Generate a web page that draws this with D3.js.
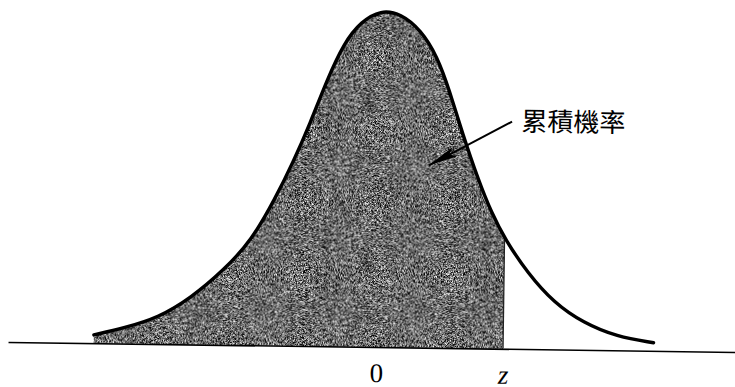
<!DOCTYPE html>
<html>
<head>
<meta charset="utf-8">
<script src="https://cdn.jsdelivr.net/npm/d3@7"></script>
<style>
  body { margin: 0; background: #fff; }
</style>
</head>
<body>
<svg id="chart" width="735" height="387"></svg>
<script>
// curve (x in standard units, height as density)
var curveX = [-3.36, -3.00, -2.60, -2.21, -1.82, -1.50, -1.23, -1.02, -0.82, -0.63, -0.43, -0.23, 0,
              0.24, 0.48, 0.68, 0.83, 0.99, 1.19, 1.35, 1.52, 1.79, 2.11, 2.46, 2.86, 3.30];
var curveY = [0.0097, 0.0185, 0.0309, 0.055, 0.089, 0.124, 0.173, 0.217, 0.264, 0.315, 0.360, 0.385, 0.399,
              0.395, 0.376, 0.345, 0.305, 0.255, 0.199, 0.161, 0.129, 0.090, 0.055, 0.032, 0.016, 0.0095];
var zValue = 1.51;
var tickValues = [0, zValue];
var tickLabels = ['0', 'z'];
var labelText = '累積機率';
var labelAt = [1.69, 0.272];
var arrowFrom = [1.58, 0.269];
var arrowTo = [0.60, 0.216];

var svg = d3.select('#chart');
var width = 735, height = 387;

var x = d3.scaleLinear().domain([-4.38, 4.27]).range([8, 735]);
var y = d3.scaleLinear().domain([0, 0.399]).range([347, 10]);

var pts = curveX.map(function(d, i) { return [d, curveY[i]]; });

var defs = svg.append('defs');

// grainy grey like the printed halftone
var grain = defs.append('filter').attr('id', 'grain')
  .attr('x', 0).attr('y', 0).attr('width', 1).attr('height', 1)
  .attr('color-interpolation-filters', 'sRGB');
grain.append('feTurbulence').attr('type', 'fractalNoise')
  .attr('baseFrequency', 1.6).attr('numOctaves', 1).attr('seed', 4).attr('result', 'n');
grain.append('feColorMatrix').attr('in', 'n').attr('type', 'matrix')
  .attr('values', '2.4 0 0 0 -0.78  2.4 0 0 0 -0.78  2.4 0 0 0 -0.78  0 0 0 0 1')
  .attr('result', 'g');
grain.append('feComposite').attr('in', 'g').attr('in2', 'SourceGraphic').attr('operator', 'in');

defs.append('clipPath').attr('id', 'leftOfZ')
  .append('rect')
  .attr('x', 0).attr('y', 0)
  .attr('width', x(zValue)).attr('height', height);

var area = d3.area()
  .x(function(d) { return x(d[0]); })
  .y0(y(0))
  .y1(function(d) { return y(d[1]); })
  .curve(d3.curveBasis);

var line = d3.line()
  .x(function(d) { return x(d[0]); })
  .y(function(d) { return y(d[1]); })
  .curve(d3.curveBasis);

defs.append('clipPath').attr('id', 'underCurve')
  .append('path').attr('d', area(pts));

defs.append('marker').attr('id', 'head')
  .attr('markerUnits', 'userSpaceOnUse')
  .attr('viewBox', '0 0 30 10')
  .attr('markerWidth', 30).attr('markerHeight', 10)
  .attr('refX', 29).attr('refY', 5)
  .attr('orient', 'auto')
  .append('path').attr('d', 'M0,0L30,5L0,10L6,5Z').style('fill', '#000');

// scanned page is tilted a little
var g = svg.append('g').attr('transform', 'rotate(0.79,' + x(0) + ',' + y(0) + ')');

g.append('path')
  .attr('d', area(pts))
  .attr('clip-path', 'url(#leftOfZ)')
  .attr('filter', 'url(#grain)')
  .style('fill', '#000');

g.append('line')
  .attr('x1', x(zValue)).attr('x2', x(zValue))
  .attr('y1', y(0)).attr('y2', y(0.399))
  .attr('clip-path', 'url(#underCurve)')
  .style('stroke', '#222').style('stroke-width', 1.3);

var axis = g.append('g')
  .attr('transform', 'translate(0,' + y(0) + ')')
  .call(d3.axisBottom(x).tickValues(tickValues).tickSize(0).tickPadding(16)
    .tickFormat(function(d, i) { return tickLabels[i]; }));
axis.select('.domain').style('stroke', '#000').style('stroke-width', 1.6);
axis.selectAll('text')
  .style('font-family', '"Liberation Serif", "DejaVu Serif", serif')
  .style('font-size', '27px')
  .style('fill', '#000')
  .style('font-style', function(d, i) { return tickLabels[i] === 'z' ? 'italic' : 'normal'; });

g.append('path')
  .attr('d', line(pts))
  .style('fill', 'none')
  .style('stroke', '#000')
  .style('stroke-width', 3.4)
  .style('stroke-linecap', 'round');

g.append('line')
  .attr('x1', x(arrowFrom[0])).attr('y1', y(arrowFrom[1]))
  .attr('x2', x(arrowTo[0])).attr('y2', y(arrowTo[1]))
  .attr('marker-end', 'url(#head)')
  .style('stroke', '#000').style('stroke-width', 2);

g.append('text')
  .attr('x', x(labelAt[0])).attr('y', y(labelAt[1]))
  .attr('dominant-baseline', 'central')
  .style('font-family', '"Noto Sans CJK TC", "Noto Sans CJK SC", sans-serif')
  .style('font-size', '26px')
  .style('fill', '#000')
  .text(labelText);
</script>
</body>
</html>
